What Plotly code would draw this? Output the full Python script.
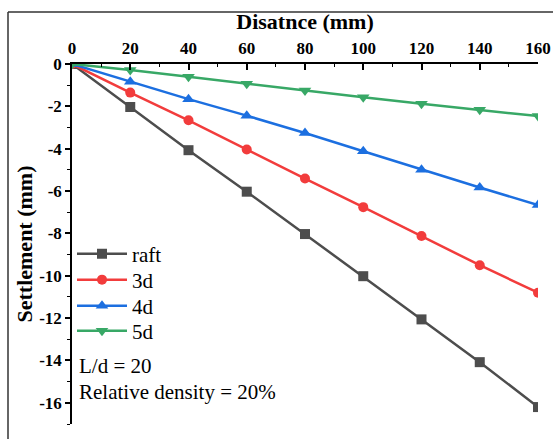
import plotly.graph_objects as go

distance = [0, 20, 40, 60, 80, 100, 120, 140, 160]
raft = [0, -2.03, -4.07, -6.03, -8.03, -10.02, -12.06, -14.08, -16.2]
d3 = [0, -1.35, -2.66, -4.04, -5.41, -6.76, -8.12, -9.5, -10.8]
d4 = [0, -0.84, -1.66, -2.44, -3.26, -4.12, -4.99, -5.83, -6.66]
d5 = [0, -0.28, -0.6, -0.93, -1.25, -1.57, -1.88, -2.16, -2.46]

y_tickvals = [0, -2, -4, -6, -8, -10, -12, -14, -16]
y_ticktext = ["0", "-2", "-4", "-6", "-8", "-10", "-12", "-14", "-16"]

series = [
    ("raft", raft, "#4d4d4d", "square", 10),
    ("3d", d3, "#f23c3c", "circle", 10),
    ("4d", d4, "#1c6fe0", "triangle-up", 11),
    ("5d", d5, "#38a866", "triangle-down", 11),
]

FONT = "Liberation Serif"
W, H = 553, 439
ml, mr, mt, mb = 72, 15, 64, 15
pw = W - ml - mr
ph = H - mt - mb


def py(px):
    return 1 - (px - mt) / ph


def pxx(px):
    return (px - ml) / pw


fig = go.Figure()
legend_rows = [254, 280, 306, 331]
for i, (name, ys, col, sym, sz) in enumerate(series):
    lg = "legend" if i == 0 else f"legend{i + 1}"
    fig.add_trace(go.Scatter(
        x=distance, y=ys, name=name, mode="lines+markers",
        line=dict(color=col, width=2.5),
        marker=dict(symbol=sym, size=sz, color=col),
        legend=lg,
    ))

layout_legends = {}
for i, row in enumerate(legend_rows):
    key = "legend" if i == 0 else f"legend{i + 1}"
    layout_legends[key] = dict(
        x=0.0, y=py(row), xanchor="left", yanchor="middle",
        bgcolor="rgba(0,0,0,0)", borderwidth=0, itemwidth=50,
        font=dict(family=FONT, size=21, color="black"),
    )

fig.update_layout(
    template="none",
    width=W, height=H,
    margin=dict(l=ml, r=mr, t=mt, b=mb, autoexpand=False),
    paper_bgcolor="white", plot_bgcolor="white",
    font=dict(family=FONT, color="black"),
    showlegend=True,
    xaxis=dict(
        range=[0, 160], side="top", showgrid=False, zeroline=False, automargin=False,
        showline=True, linecolor="black", linewidth=1.5, mirror=False,
        ticks="inside", ticklen=6, tickwidth=1.5, tickcolor="black",
        dtick=20, tick0=0, ticklabelstandoff=1,
        minor=dict(ticks="inside", ticklen=3.5, dtick=10, tickcolor="black", tickwidth=1.2),
        tickfont=dict(family=FONT, size=17, color="black", weight="bold"),
        title=dict(text="<b>Disatnce (mm)</b>", font=dict(family=FONT, size=22, color="black"), standoff=4),
    ),
    yaxis=dict(
        range=[-17, 0], showgrid=False, zeroline=False, automargin=False,
        showline=True, linecolor="black", linewidth=1.5, mirror=False,
        ticks="outside", ticklen=5, tickwidth=1.5, tickcolor="black",
        tickmode="array", tickvals=y_tickvals, ticktext=y_ticktext,
        minor=dict(ticks="outside", ticklen=3, dtick=1, tick0=0, tickcolor="black", tickwidth=1.2),
        tickfont=dict(family=FONT, size=17, color="black", weight="bold"),
        title=dict(text="<b>Settlement (mm)</b>", font=dict(family=FONT, size=22, color="black"), standoff=0),
    ),
    **layout_legends,
)

# outer frame (top and left edges)
fx0 = pxx(8)
fy_top = py(12)
fig.add_shape(type="line", xref="paper", yref="paper", x0=fx0, x1=1.1, y0=fy_top, y1=fy_top,
              line=dict(color="#333333", width=1.5))
fig.add_shape(type="line", xref="paper", yref="paper", x0=fx0, x1=fx0, y0=fy_top, y1=-0.1,
              line=dict(color="#333333", width=1.5))

fig.add_annotation(x=pxx(77), y=py(366), xref="paper", yref="paper",
                   text="L/d = 20", showarrow=False, xanchor="left", yanchor="middle",
                   font=dict(family=FONT, size=21, color="black"))
fig.add_annotation(x=pxx(77), y=py(392), xref="paper", yref="paper",
                   text="Relative density = 20%", showarrow=False, xanchor="left", yanchor="middle",
                   font=dict(family=FONT, size=21, color="black"))

fig.write_html("out.html")
